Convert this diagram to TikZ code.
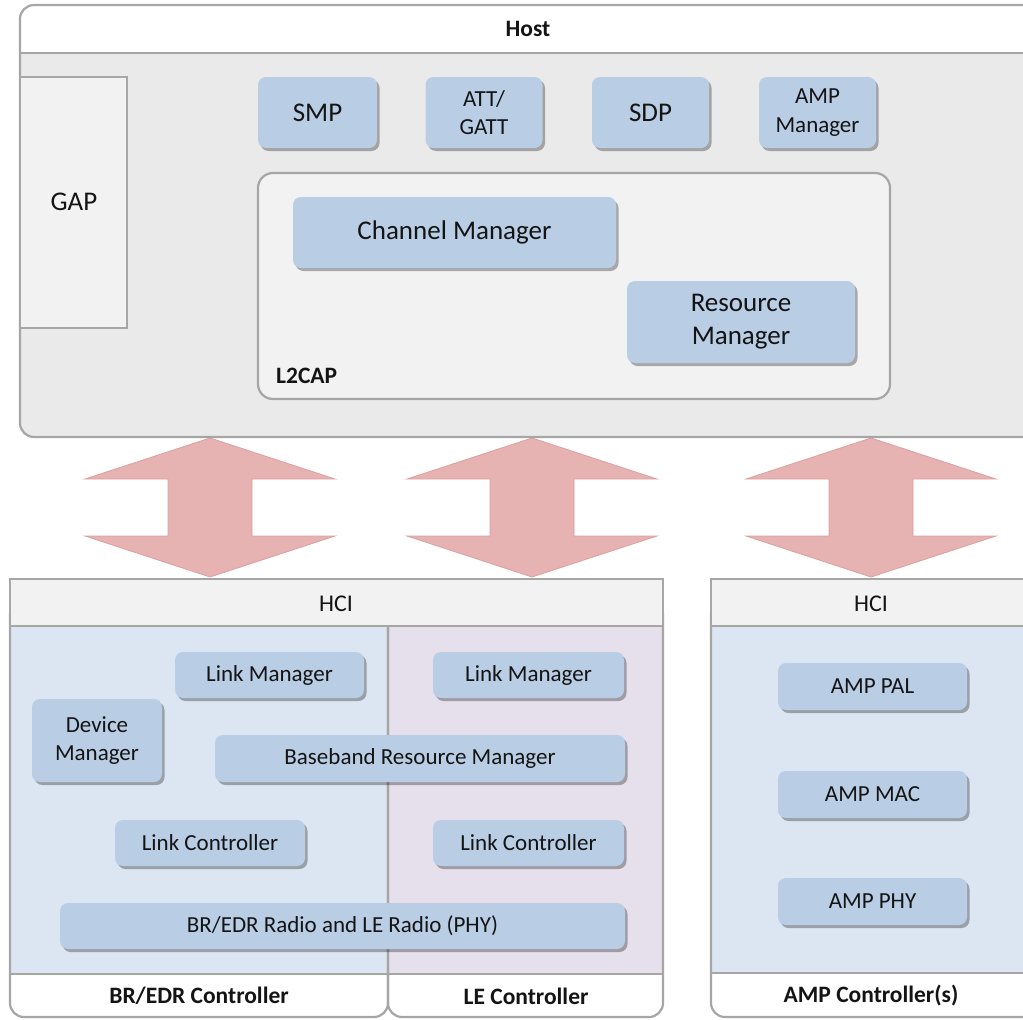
\documentclass[tikz,border=0pt]{standalone}
\usepackage{fontspec}
\setmainfont{Carlito}
\usetikzlibrary{shadows}
\definecolor{bordergray}{HTML}{A6A6A6}
\definecolor{hostgray}{HTML}{EAEAEA}
\definecolor{panelgray}{HTML}{F2F2F2}
\definecolor{blockblue}{HTML}{B9CDE5}
\definecolor{brblue}{HTML}{DCE6F2}
\definecolor{lepurple}{HTML}{E6E0EC}
\definecolor{arrowred}{HTML}{E6B2B2}
\definecolor{arrowedge}{HTML}{DDA0A0}
\definecolor{txt}{HTML}{141414}
\tikzset{
  blk/.style={fill=blockblue, rounded corners=8pt, inner sep=0pt, align=center, text=txt,
    drop shadow={shadow xshift=2.5pt, shadow yshift=-3pt, fill=black, opacity=0.3}},
  fbig/.style={font=\fontsize{27}{33}\selectfont},
  fmid/.style={font=\fontsize{23}{28.5}\selectfont},
  bold/.style={inner sep=0pt, text=txt, font=\fontsize{23.5}{27}\selectfont\bfseries},
  plain/.style={inner sep=0pt, text=txt, font=\fontsize{24}{28}\selectfont},
  frame/.style={draw=bordergray, line width=2.2pt},
  blockarrow/.style={fill=arrowred, draw=arrowedge, line width=0.8pt, line join=miter}
}
\begin{document}
\begin{tikzpicture}[x=1pt,y=-1pt]
\useasboundingbox (0,0) rectangle (1023,1020);
\clip (0,0) rectangle (1023,1020);

% ---------- block arrows between host and controllers
\foreach \c/\n in {210/a, 532/b, 871/c}{
  \coordinate (\n top) at (\c,438);
  \coordinate (\n bot) at (\c,577);
  \path[blockarrow] (\n top) -- ++(125,41) -- ++(-83,0) -- ++(0,57) -- ++(83,0)
     -- (\n bot) -- ++(-125,-41) -- ++(83,0) -- ++(0,-57) -- ++(-83,0) -- cycle;
}

% ---------- Host
\fill[hostgray, rounded corners=14pt] (20,5) rectangle (1040,437);
\begin{scope}
  \clip[rounded corners=14pt] (20,5) rectangle (1040,437);
  \fill[white] (20,5) rectangle (1040,53);
\end{scope}
\draw[frame] (20,53) -- (1040,53);
\draw[frame, rounded corners=14pt] (20,5) rectangle (1040,437);
\node[bold] (host) at (528,29) {Host};

% GAP
\filldraw[frame, fill=panelgray] (20,77) rectangle (127,328);
\node[plain, fbig] (gap) at (74,202) {GAP};

% top protocol blocks
\node[blk, fbig, minimum width=119pt, minimum height=71pt] (smp) at (317.5,112.5) {SMP};
\node[blk, fmid, minimum width=117pt, minimum height=71pt] (att) at (484,112.5) {ATT/\\GATT};
\node[blk, fbig, minimum width=117pt, minimum height=71pt] (sdp) at (650.5,112.5) {SDP};
\node[blk, fmid, minimum width=117pt, minimum height=71pt] (ampm) at (817.5,112.5) {AMP\\Manager};

% L2CAP
\filldraw[frame, fill=panelgray, rounded corners=15pt] (258,173) rectangle (890,399);
\node[bold, anchor=west] (l2cap) at (276,376) {L2CAP};
\node[blk, fbig, minimum width=323pt, minimum height=71pt] (chm) at (454.5,232.5) {Channel Manager};
\node[blk, fbig, minimum width=228pt, minimum height=82pt] (rsm) at (741,322) {Resource\\Manager};

% ---------- BR/EDR and LE controllers
\fill[white, rounded corners=14pt] (10,600) rectangle (388,1017);
\fill[white, rounded corners=14pt] (388,600) rectangle (663,1017);
\fill[brblue] (10,626) rectangle (388,974);
\fill[lepurple] (388,626) rectangle (663,974);
\draw[frame] (10,974) -- (663,974);
\draw[frame, rounded corners=14pt] (10,600) rectangle (388,1017);
\draw[frame, rounded corners=14pt] (388,600) rectangle (663,1017);
\filldraw[frame, fill=panelgray] (10,579) rectangle (663,626);
\node[plain] (hci1) at (336,604) {HCI};
\node[bold] (brc) at (199,996) {BR/EDR Controller};
\node[bold] (lec) at (526,996) {LE Controller};

\node[blk, fmid, minimum width=189pt, minimum height=46pt] (lm1) at (269.5,675) {Link Manager};
\node[blk, fmid, minimum width=130pt, minimum height=83pt] (dm) at (97,740.5) {Device\\Manager};
\node[blk, fmid, minimum width=410pt, minimum height=47pt] (bb) at (420,758.5) {Baseband Resource Manager};
\node[blk, fmid, minimum width=190pt, minimum height=46pt] (lc1) at (210,843) {Link Controller};
\node[blk, fmid, minimum width=191pt, minimum height=46pt] (lm2) at (528.5,675) {Link Manager};
\node[blk, fmid, minimum width=191pt, minimum height=46pt] (lc2) at (528.5,843) {Link Controller};
\node[blk, fmid, minimum width=565pt, minimum height=46pt] (phy) at (342.5,926) {BR/EDR Radio and LE Radio (PHY)};

% ---------- AMP controller
\fill[white, rounded corners=14pt] (711,600) rectangle (1060,1017);
\fill[brblue] (711,626) rectangle (1060,973);
\draw[frame] (711,973) -- (1060,973);
\draw[frame, rounded corners=14pt] (711,600) rectangle (1060,1017);
\filldraw[frame, fill=panelgray] (711,579) rectangle (1060,626);
\node[plain] (hci2) at (871,604) {HCI};
\node[bold] (ampc) at (871,996) {AMP Controller(s)};

\node[blk, fmid, minimum width=189pt, minimum height=47pt] (pal) at (872.5,686.5) {AMP PAL};
\node[blk, fmid, minimum width=189pt, minimum height=47pt] (mac) at (872.5,794.5) {AMP MAC};
\node[blk, fmid, minimum width=189pt, minimum height=47pt] (aphy) at (872.5,901.5) {AMP PHY};
\end{tikzpicture}
\end{document}
